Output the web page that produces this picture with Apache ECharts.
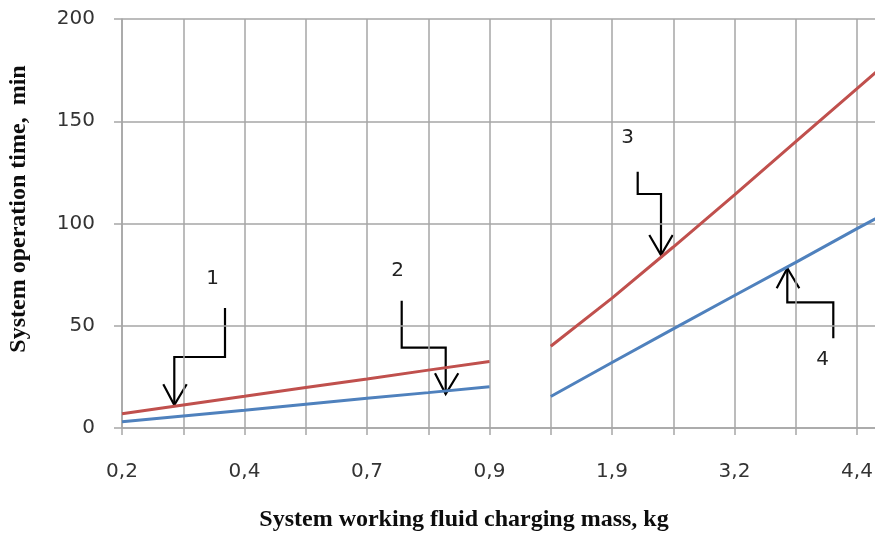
<!DOCTYPE html>
<html>
<head>
<meta charset="utf-8">
<script src="https://cdn.jsdelivr.net/npm/echarts@6/dist/echarts.min.js"></script>
<style>
html,body{margin:0;padding:0;background:#fff;}
#chart{width:875px;height:533px;}
</style>
</head>
<body>
<div id="chart"></div>
<script>
// Category positions along the x axis (labels shown on every other gridline)
const categories = ['0,2', '', '0,4', '', '0,7', '', '0,9', '', '1,9', '', '3,2', '', '4,4', ''];
// Low-mass range (indices 0..6)
const redLow  = [7, 11.3, 15.5, 19.8, 24, 28.3, 32.5];
const blueLow = [3, 5.9, 8.7, 11.6, 14.5, 17.3, 20.2];
// High-mass range (indices 7..13)
const redHigh  = [40, 63.5, 88.5, 114, 140, 166, 192];
const blueHigh = [15.4, 32, 48.5, 64.8, 81, 97.5, 113.5];
const yTicks = [0, 50, 100, 150, 200];
const xTitle = 'System working fluid charging mass, kg';
const yTitle = 'System operation time,  min';

const pad = n => Array(n).fill('-');
const RED = '#C0504D', BLUE = '#4F81BD', GRID = '#a6a6a6';

function lineSeries(data, color) {
  return { type: 'line', data: data, symbol: 'none', smooth: false,
    lineStyle: { color: color, width: 3 }, itemStyle: { color: color },
    silent: true, animation: false, connectNulls: false };
}

const chart = echarts.init(document.getElementById('chart'), null, { renderer: 'canvas' });

function arrow(points, head) {
  return [
    { type: 'polyline', shape: { points: points }, style: { stroke: '#000', lineWidth: 2.2, fill: null } },
    { type: 'polyline', shape: { points: head }, style: { stroke: '#000', lineWidth: 2.2, fill: null } }
  ];
}
const labelStyle = { font: '20px "DejaVu Sans"', fill: '#222', align: 'center', verticalAlign: 'middle' };

chart.setOption({
  animation: false,
  backgroundColor: '#fff',
  grid: { left: 122, top: 19, bottom: 105, right: -43.25, containLabel: false, outerBoundsMode: 'none' },
  xAxis: {
    type: 'category', data: categories, boundaryGap: false,
    axisLine: { show: true, lineStyle: { color: GRID, width: 1.5 } },
    axisTick: { show: true, length: 7, interval: 0, lineStyle: { color: GRID, width: 1.5 } },
    axisLabel: { interval: 0, margin: 34, fontFamily: 'DejaVu Sans', fontSize: 20, color: '#333' },
    splitLine: { show: true, interval: 0, lineStyle: { color: GRID, width: 1.5 } }
  },
  yAxis: {
    type: 'value', min: yTicks[0], max: yTicks[yTicks.length - 1], interval: 50,
    axisLine: { show: true, lineStyle: { color: GRID, width: 1.5 } },
    axisTick: { show: true, length: 8, lineStyle: { color: GRID, width: 1.5 } },
    axisLabel: { margin: 27, fontFamily: 'DejaVu Sans', fontSize: 20, color: '#333' },
    splitLine: { show: true, lineStyle: { color: GRID, width: 1.5 } }
  },
  series: [
    lineSeries(redLow, RED),
    lineSeries(pad(7).concat(redHigh), RED),
    lineSeries(blueLow, BLUE),
    lineSeries(pad(7).concat(blueHigh), BLUE)
  ],
  graphic: [
    { type: 'text', x: 464, y: 520, style: { text: xTitle, font: 'bold 24px "Liberation Serif"', fill: '#0d0d0d', align: 'center', verticalAlign: 'middle' } },
    { type: 'text', x: 19, y: 209, rotation: Math.PI / 2, style: { text: yTitle, font: 'bold 24px "Liberation Serif"', fill: '#0d0d0d', align: 'center', verticalAlign: 'middle' } },
    { type: 'text', x: 212.5, y: 278.5, style: Object.assign({ text: '1' }, labelStyle) },
    { type: 'text', x: 397.5, y: 271, style: Object.assign({ text: '2' }, labelStyle) },
    { type: 'text', x: 627.5, y: 138, style: Object.assign({ text: '3' }, labelStyle) },
    { type: 'text', x: 822.5, y: 360, style: Object.assign({ text: '4' }, labelStyle) },
    ...arrow([[225, 308], [225, 357], [174.3, 357], [174.3, 405]], [[163.3, 384.3], [174.3, 405], [186.7, 384.3]]),
    ...arrow([[401.7, 300.7], [401.7, 347.7], [445.7, 347.7], [445.7, 394]], [[435, 373.3], [445.7, 394], [458.3, 373.3]]),
    ...arrow([[637.7, 171.7], [637.7, 194], [661, 194], [661, 255]], [[649.3, 235], [661, 255], [672.7, 235]]),
    ...arrow([[833.3, 338.3], [833.3, 302.3], [787.3, 302.3], [787.3, 268.3]], [[776.7, 288.3], [787.3, 268.3], [799.3, 288.3]])
  ]
});
</script>
</body>
</html>
